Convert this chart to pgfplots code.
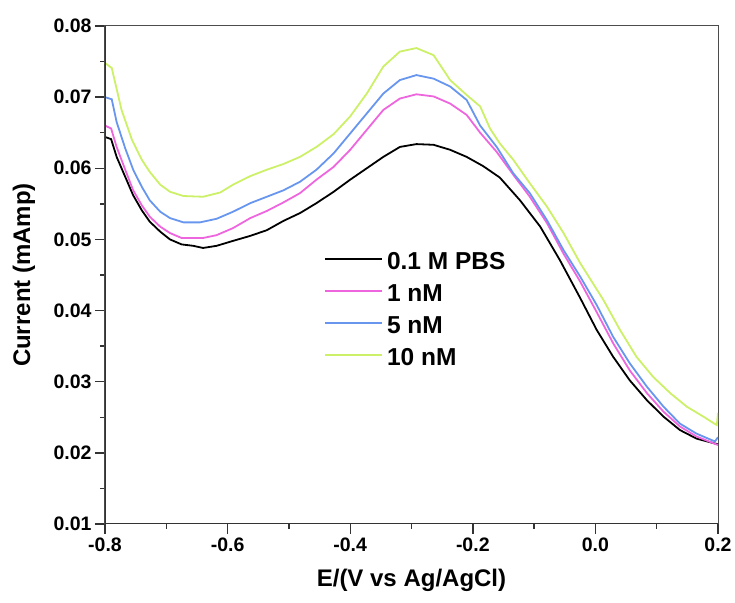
\documentclass[border=0pt]{standalone}
\usepackage{fontspec}
\setmainfont{Liberation Sans}
\usepackage{pgfplots}
\usepackage{pgfplotstable}
\pgfplotsset{compat=1.18}

\definecolor{cpink}{RGB}{238,102,222}
\definecolor{cblue}{RGB}{104,150,238}
\definecolor{clime}{RGB}{204,240,104}

% 0.1 M PBS
\pgfplotstableread{
x y
-0.800 0.0644
-0.790 0.0641
-0.781 0.0616
-0.767 0.0588
-0.754 0.0562
-0.740 0.0541
-0.727 0.0525
-0.710 0.0511
-0.694 0.0500
-0.675 0.0493
-0.656 0.0491
-0.640 0.0488
-0.618 0.0491
-0.591 0.0498
-0.563 0.0505
-0.536 0.0513
-0.509 0.0526
-0.482 0.0537
-0.455 0.0551
-0.427 0.0567
-0.400 0.0584
-0.373 0.0600
-0.346 0.0616
-0.319 0.0630
-0.292 0.0634
-0.264 0.0633
-0.237 0.0626
-0.210 0.0616
-0.183 0.0603
-0.156 0.0587
-0.123 0.0555
-0.090 0.0518
-0.058 0.0471
-0.025 0.0418
0.002 0.0373
0.029 0.0335
0.056 0.0302
0.084 0.0274
0.111 0.0251
0.138 0.0232
0.165 0.0220
0.200 0.0212
}\pbs

% 1 nM
\pgfplotstableread{
x y
-0.800 0.0660
-0.790 0.0656
-0.781 0.0630
-0.767 0.0598
-0.754 0.0569
-0.740 0.0548
-0.727 0.0532
-0.710 0.0518
-0.694 0.0509
-0.675 0.0502
-0.640 0.0502
-0.618 0.0506
-0.591 0.0516
-0.563 0.0530
-0.536 0.0540
-0.509 0.0552
-0.482 0.0565
-0.455 0.0584
-0.427 0.0602
-0.400 0.0626
-0.373 0.0654
-0.346 0.0682
-0.319 0.0698
-0.292 0.0704
-0.264 0.0701
-0.237 0.0691
-0.210 0.0675
-0.188 0.0650
-0.161 0.0623
-0.134 0.0591
-0.107 0.0560
-0.079 0.0523
-0.052 0.0480
-0.025 0.0441
0.002 0.0398
0.029 0.0354
0.056 0.0316
0.084 0.0284
0.111 0.0258
0.138 0.0237
0.165 0.0223
0.200 0.0211
}\one

% 5 nM
\pgfplotstableread{
x y
-0.800 0.0700
-0.789 0.0697
-0.781 0.0665
-0.767 0.0628
-0.754 0.0598
-0.740 0.0574
-0.727 0.0555
-0.710 0.0539
-0.694 0.0530
-0.672 0.0524
-0.645 0.0524
-0.618 0.0529
-0.591 0.0539
-0.563 0.0551
-0.536 0.0560
-0.509 0.0569
-0.482 0.0581
-0.455 0.0598
-0.427 0.0621
-0.400 0.0649
-0.373 0.0677
-0.346 0.0705
-0.319 0.0724
-0.292 0.0731
-0.264 0.0726
-0.237 0.0715
-0.210 0.0696
-0.188 0.0660
-0.161 0.0630
-0.134 0.0593
-0.107 0.0565
-0.079 0.0527
-0.052 0.0485
-0.025 0.0448
0.002 0.0408
0.029 0.0363
0.056 0.0326
0.084 0.0293
0.111 0.0265
0.138 0.0241
0.165 0.0227
0.195 0.0216
0.200 0.0222
}\five

% 10 nM
\pgfplotstableread{
x y
-0.800 0.0748
-0.789 0.0741
-0.773 0.0682
-0.756 0.0640
-0.740 0.0612
-0.727 0.0595
-0.710 0.0577
-0.694 0.0567
-0.672 0.0561
-0.640 0.0560
-0.612 0.0566
-0.591 0.0577
-0.563 0.0589
-0.536 0.0598
-0.509 0.0606
-0.482 0.0616
-0.455 0.0630
-0.427 0.0648
-0.400 0.0673
-0.373 0.0705
-0.346 0.0743
-0.319 0.0764
-0.292 0.0769
-0.264 0.0759
-0.237 0.0724
-0.210 0.0703
-0.188 0.0687
-0.172 0.0656
-0.156 0.0635
-0.134 0.0612
-0.107 0.0579
-0.079 0.0546
-0.052 0.0509
-0.025 0.0467
0.013 0.0415
0.040 0.0373
0.067 0.0335
0.094 0.0307
0.122 0.0284
0.149 0.0265
0.176 0.0251
0.198 0.0239
0.200 0.0256
}\ten

\begin{document}
\begin{tikzpicture}
\begin{axis}[
    name=ax,
    scale only axis,
    width=613pt, height=498pt,
    xmin=-0.8, xmax=0.2,
    ymin=0.01, ymax=0.08,
    xtick={-0.8,-0.6,-0.4,-0.2,0,0.2},
    ytick={0.01,0.02,0.03,0.04,0.05,0.06,0.07,0.08},
    minor x tick num=1,
    minor y tick num=1,
    xtick pos=bottom, ytick pos=left,
    tick align=outside,
    major tick length=10pt,
    minor tick length=5pt,
    every tick/.style={line width=1.4pt, black!80},
    axis line style={line width=1pt, black!70},
    /pgf/number format/assume math mode=true,
    tick label style={font=\fontsize{19.5}{21}\selectfont\bfseries},
    x tick label style={/pgf/number format/.cd, fixed, fixed zerofill, precision=1},
    y tick label style={/pgf/number format/.cd, fixed, fixed zerofill, precision=2},
    scaled ticks=false,
    xlabel={E/(V vs Ag/AgCl)},
    ylabel={Current (mAmp)},
    label style={font=\fontsize{24}{26}\selectfont\bfseries},
    xlabel style={at={([yshift=-56pt]axis description cs:0.5,0)}, anchor=center},
    ylabel style={at={([xshift=-81pt]axis description cs:0,0.5)}, anchor=center},
    legend style={draw=none, fill=none, at={(axis description cs:0.357,0.545)},
        anchor=north west, font=\fontsize{24.5}{26}\selectfont\bfseries,
        row sep=13.5pt, inner sep=0pt, nodes={inner sep=0pt},
        /tikz/every odd column/.style={column sep=4pt}},
    legend cell align=left,
    legend image code/.code={\draw[#1, line width=2pt] (0pt,0.3em) -- (57pt,0.3em);},
    every axis plot/.append style={line width=1.8pt},
]
\addplot[black] table[x=x, y=y] {\pbs};
\addlegendentry{0.1 M PBS}
\addplot[cpink] table[x=x, y=y] {\one};
\addlegendentry{1 nM}
\addplot[cblue] table[x=x, y=y] {\five};
\addlegendentry{5 nM}
\addplot[clime] table[x=x, y=y] {\ten};
\addlegendentry{10 nM}
\draw[line width=2pt, black!80] (rel axis cs:0,1) -- (rel axis cs:0,0) -- (rel axis cs:1,0);
\end{axis}
\path ([shift={(-105pt,-79pt)}]ax.south west) rectangle ([shift={(17pt,26pt)}]ax.north east);
\end{tikzpicture}
\end{document}
